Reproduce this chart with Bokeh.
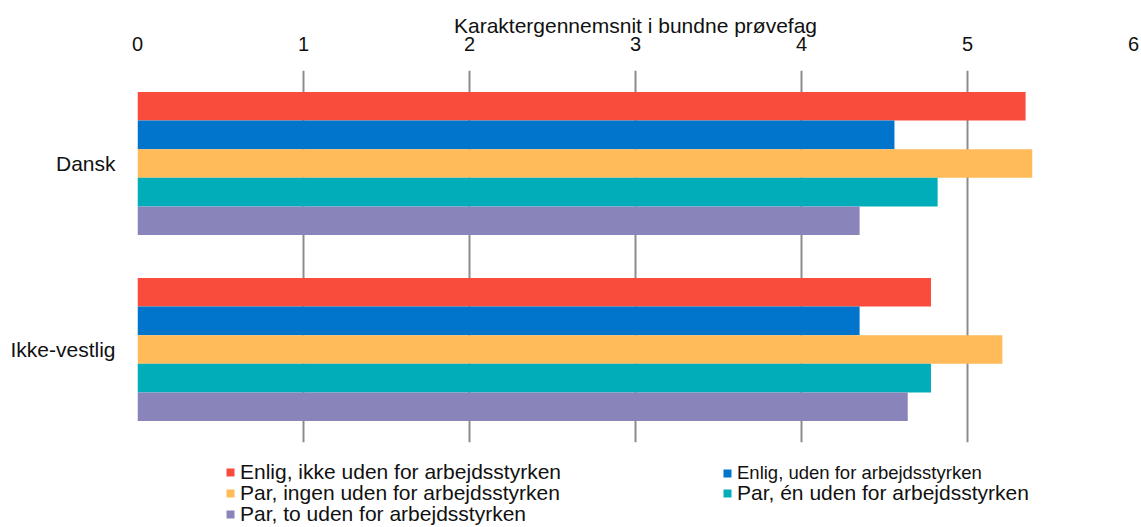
from bokeh.plotting import figure
from bokeh.layouts import column
from bokeh.models import ColumnDataSource, FactorRange, FixedTicker, Legend, LegendItem
from bokeh.transform import dodge
from bokeh.embed import file_html
from bokeh.resources import INLINE

categories = ["Dansk", "Ikke-vestlig"]
series_names = [
    "Enlig, ikke uden for arbejdsstyrken",
    "Enlig, uden for arbejdsstyrken",
    "Par, ingen uden for arbejdsstyrken",
    "Par, én uden for arbejdsstyrken",
    "Par, to uden for arbejdsstyrken",
]
enlig_ikke_uden = [5.35, 4.78]
enlig_uden = [4.56, 4.35]
par_ingen_uden = [5.39, 5.21]
par_en_uden = [4.82, 4.78]
par_to_uden = [4.35, 4.64]
x_ticks = [0, 1, 2, 3, 4, 5, 6]
axis_title = "Karaktergennemsnit i bundne prøvefag"

series_values = [enlig_ikke_uden, enlig_uden, par_ingen_uden, par_en_uden, par_to_uden]
colors = ["#F94C3C", "#0075CB", "#FFBA59", "#00ADB9", "#8984BA"]
offsets = [0.308, 0.154, 0.0, -0.154, -0.308]
bar_h = 0.154

FONT = "Liberation Sans"
TXT = "#111111"

p = figure(
    width=1141, height=455,
    y_range=FactorRange(factors=categories[::-1]),
    x_range=(0, 6),
    x_axis_location="above",
    output_backend="svg",
    toolbar_location=None,
    min_border_left=137, min_border_right=8,
    min_border_top=70, min_border_bottom=13,
)
p.outline_line_color = None

src = ColumnDataSource(dict(cat=categories, **{f"s{i}": v for i, v in enumerate(series_values)}))

for i, col in enumerate(colors):
    p.hbar(y=dodge("cat", offsets[i], range=p.y_range), right=f"s{i}", left=0,
           height=bar_h, source=src, fill_color=col, line_color=None)

xa = p.xaxis[0]
xa.ticker = FixedTicker(ticks=x_ticks)
xa.axis_label = axis_title
xa.axis_label_text_font = FONT
xa.axis_label_text_font_size = "21px"
xa.axis_label_text_font_style = "normal"
xa.axis_label_text_color = TXT
xa.axis_label_standoff = -3
xa.major_label_text_font = FONT
xa.major_label_text_font_size = "20px"
xa.major_label_text_color = TXT
xa.major_label_standoff = 14
xa.axis_line_color = None
xa.major_tick_line_color = None
xa.minor_tick_line_color = None

ya = p.yaxis[0]
ya.major_label_text_font = FONT
ya.major_label_text_font_size = "21px"
ya.major_label_text_color = TXT
ya.major_label_standoff = 16
ya.axis_line_color = None
ya.major_tick_line_color = None
ya.minor_tick_line_color = None

p.xgrid.grid_line_color = "#8C8C8C"
p.xgrid.grid_line_width = 2
p.ygrid.grid_line_color = None

# legend strip below the chart (its frame lines up with the chart frame);
# its bars have zero width, so only the legend swatches show
q = figure(
    width=1141, height=72,
    y_range=FactorRange(factors=categories[::-1]),
    x_range=(0, 6),
    x_axis_type=None, y_axis_type=None,
    output_backend="svg", toolbar_location=None,
    min_border_left=137, min_border_right=8,
    min_border_top=0, min_border_bottom=0,
)
q.outline_line_color = None
q.xgrid.grid_line_color = None
q.ygrid.grid_line_color = None

leg_pos = [(88, 43), (585, 43), (88, 22), (585, 22), (88, 1)]
leg_size = ["21px", "18.5px", "21px", "21px", "21px"]
for i, col in enumerate(colors):
    r = q.hbar(y=dodge("cat", offsets[i], range=q.y_range), left=f"s{i}", right=f"s{i}",
               height=bar_h, source=src, fill_color=col, line_color=None)
    lg = Legend(items=[LegendItem(label=series_names[i], renderers=[r])],
                location=leg_pos[i], orientation="vertical",
                padding=0, margin=0, spacing=0,
                border_line_color=None, background_fill_alpha=0,
                glyph_width=10, glyph_height=10, label_standoff=5,
                label_text_font=FONT, label_text_font_size=leg_size[i],
                label_text_color=TXT, label_height=20)
    q.add_layout(lg, "center")

open("out.html", "w").write(file_html(column(p, q, spacing=0), INLINE))
